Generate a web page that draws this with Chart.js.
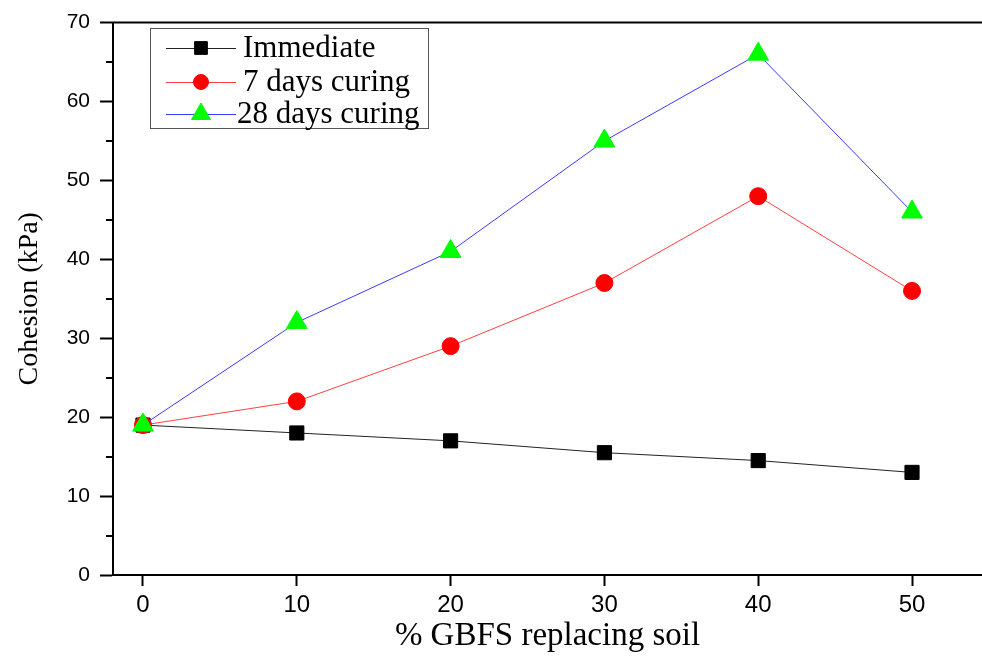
<!DOCTYPE html>
<html>
<head>
<meta charset="utf-8">
<script src="https://cdn.jsdelivr.net/npm/chart.js@4.4.1/dist/chart.umd.min.js"></script>
<style>
  html, body { margin: 0; padding: 0; background: #fff; overflow: hidden; }
  #wrap { width: 982px; height: 656px; position: relative; }
</style>
</head>
<body>
<div id="wrap"><canvas id="chart"></canvas></div>
<script>
'use strict';

// data
const gbfs       = [0, 10, 20, 30, 40, 50];
const immediate  = [19, 18, 17, 15.5, 14.5, 13];
const days7      = [19, 22, 29, 37, 48, 36];
const days28     = [19, 32, 41, 55, 66, 46];
const xTicks     = [0, 10, 20, 30, 40, 50];
const yMinor     = [5, 15, 25, 35, 45, 55, 65];
const seriesNames = ['Immediate', '7 days curing', '28 days curing'];

const pts = arr => gbfs.map((x, i) => ({ x: x, y: arr[i] }));

const datasets = [
  { label: seriesNames[0], data: pts(immediate), borderColor: '#222', backgroundColor: '#000',
    pointStyle: 'rect', pointRadius: 10, pointBorderColor: '#000', order: 2 },
  { label: seriesNames[1], data: pts(days7), borderColor: '#ff4040', backgroundColor: '#ff0000',
    pointStyle: 'circle', pointRadius: 8.5, pointBorderColor: '#ff0000', order: 1 },
  { label: seriesNames[2], data: pts(days28), borderColor: '#3a3aff', backgroundColor: '#00ff00',
    pointStyle: 'triangle', pointRadius: 12, pointBorderColor: '#00ff00', order: 0 }
];
datasets.forEach(d => { d.borderWidth = 1; d.pointBorderWidth = 1; d.tension = 0; d.fill = false; });

// frame top edge, minor y ticks and the boxed legend
const framePlugin = {
  id: 'frame',
  afterDraw(chart) {
    const { ctx, chartArea: a, scales } = chart;
    ctx.save();
    ctx.strokeStyle = '#000';
    ctx.lineWidth = 2;
    ctx.beginPath();
    ctx.moveTo(a.left - 1, a.top);
    ctx.lineTo(a.right, a.top);
    ctx.stroke();

    yMinor.forEach(v => {
      const y = Math.round(scales.y.getPixelForValue(v));
      ctx.beginPath();
      ctx.moveTo(a.left - 7, y);
      ctx.lineTo(a.left, y);
      ctx.stroke();
    });

    // legend
    const bx = 150.5, by = 28.5, bw = 278, bh = 100;
    ctx.strokeStyle = '#555';
    ctx.lineWidth = 1;
    ctx.strokeRect(bx, by, bw, bh);
    const rows = [48, 82, 114];
    ctx.font = '31px "Liberation Serif", "Times New Roman", serif';
    ctx.textBaseline = 'middle';
    chart.data.datasets.forEach((ds, i) => {
      const y = rows[i];
      ctx.strokeStyle = ds.borderColor;
      ctx.lineWidth = 1;
      ctx.beginPath();
      ctx.moveTo(166, y + 0.5);
      ctx.lineTo(236, y + 0.5);
      ctx.stroke();
      ctx.fillStyle = ds.backgroundColor;
      ctx.strokeStyle = ds.pointBorderColor;
      Chart.helpers.drawPoint(ctx, { pointStyle: ds.pointStyle, radius: ds.pointRadius - 1, borderWidth: 1, rotation: 0 }, 201, y);
      ctx.fillStyle = '#000';
      ctx.textAlign = 'left';
      ctx.fillText(ds.label, i === 2 ? 237 : 243, y + 1);
    });
    ctx.restore();
  }
};

new Chart(document.getElementById('chart'), {
  type: 'line',
  data: { datasets: datasets },
  options: {
    responsive: true,
    maintainAspectRatio: false,
    animation: false,
    layout: { autoPadding: false, padding: { top: 20, left: 0, right: 0, bottom: 0 } },
    plugins: { legend: { display: false }, tooltip: { enabled: false } },
    scales: {
      x: {
        type: 'linear',
        min: -1.95,
        max: 54.55,
        afterBuildTicks: s => { s.ticks = xTicks.map(v => ({ value: v })); },
        afterFit: s => { s.height = 81; s.paddingLeft = 0; s.paddingRight = 0; },
        border: { color: '#000', width: 2 },
        grid: { drawOnChartArea: false, drawTicks: true, tickLength: 11, tickColor: '#000', tickWidth: 2 },
        ticks: { color: '#000', padding: 5, font: { family: '"Liberation Sans", Arial, sans-serif', size: 24 } },
        title: { display: true, text: '% GBFS replacing soil', color: '#000', padding: { top: 0, bottom: 0 },
                 font: { family: '"Liberation Serif", "Times New Roman", serif', size: 33 } }
      },
      y: {
        min: 0,
        max: 70,
        ticks: { stepSize: 10, color: '#000', padding: 10, font: { family: '"Liberation Sans", Arial, sans-serif', size: 21 } },
        afterFit: s => { s.width = 113; },
        border: { color: '#000', width: 2 },
        grid: { drawOnChartArea: false, drawTicks: true, tickLength: 13, tickColor: '#000', tickWidth: 2 },
        title: { display: true, text: 'Cohesion (kPa)', color: '#000', padding: { top: 13, bottom: 0 },
                 font: { family: '"Liberation Serif", "Times New Roman", serif', size: 28 } }
      }
    }
  },
  plugins: [framePlugin]
});
</script>
</body>
</html>
